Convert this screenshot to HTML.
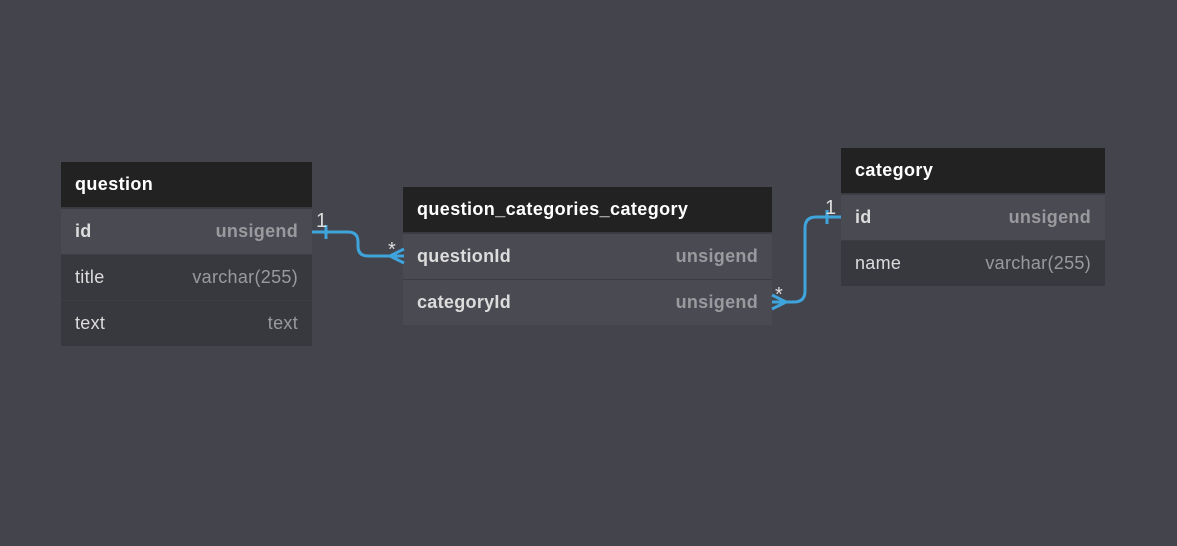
<!DOCTYPE html>
<html><head><style>
body{margin:0;width:1177px;height:546px;background:#44444c;position:relative;overflow:hidden;font-family:"Liberation Sans",sans-serif;}
.t{position:absolute;}
.h{height:46px;background:#222222;color:#fff;font-weight:bold;font-size:18px;letter-spacing:0.4px;line-height:44px;padding-left:14px;box-sizing:border-box;border-bottom:1px solid #3a3a40;}
.r{height:46px;line-height:44px;font-size:18px;letter-spacing:0.3px;padding:0 14px;box-sizing:border-box;display:flex;justify-content:space-between;color:#dcdcdc;background:#38383f;border-top:1px solid #3d3d44;}
.r.k{background:#4a4a52;font-weight:bold;}
.r .ty{color:#9a9a9e;}
</style></head><body>
<div class="t" style="left:61px;top:162px;width:251px;">
<div class="h">question</div>
<div class="r k"><span>id</span><span class="ty">unsigend</span></div>
<div class="r"><span>title</span><span class="ty">varchar(255)</span></div>
<div class="r"><span>text</span><span class="ty">text</span></div>
</div>
<div class="t" style="left:403px;top:187px;width:369px;">
<div class="h">question_categories_category</div>
<div class="r k"><span>questionId</span><span class="ty">unsigend</span></div>
<div class="r k"><span>categoryId</span><span class="ty">unsigend</span></div>
</div>
<div class="t" style="left:841px;top:148px;width:264px;">
<div class="h">category</div>
<div class="r k"><span>id</span><span class="ty">unsigend</span></div>
<div class="r"><span>name</span><span class="ty">varchar(255)</span></div>
</div>
<svg width="1177" height="546" style="position:absolute;left:0;top:0" font-family="Liberation Sans, sans-serif">
<g fill="none" stroke="#3fa3dc" stroke-width="3">
<path d="M312 232 H348 Q358 232 358 242 V246 Q358 256 368 256 H404"/>
<path d="M326 225 V239"/>
<path d="M390 256 L404 249 M390 256 L404 263"/>
<path d="M772 302 H794 Q805 302 805 291 V228 Q805 217 816 217 H841"/>
<path d="M827 210 V224"/>
<path d="M786 302 L772 295 M786 302 L772 309"/>
</g>
<g fill="#ddd" font-size="20">
<text x="316" y="227">1</text>
<text x="388" y="256">*</text>
<text x="825" y="214">1</text>
<text x="775" y="301">*</text>
</g>
</svg>
</body></html>
